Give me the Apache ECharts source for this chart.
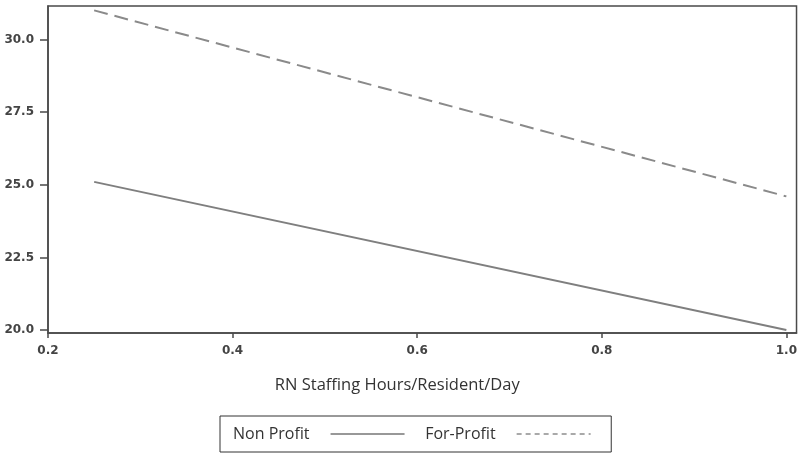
<!DOCTYPE html>
<html>
<head>
<meta charset="utf-8">
<script src="https://cdn.jsdelivr.net/npm/echarts@6/dist/echarts.min.js"></script>
<style>
  html, body { margin: 0; padding: 0; background: #fff; }
  #chart { width: 800px; height: 454px; }
</style>
</head>
<body>
<div id="chart"></div>
<script>
// RN staffing hours (x) and fitted values for each ownership type
const staffing = [0.25, 1.0];
const nonProfit = [25.1, 20.0];
const forProfit = [31.0, 24.6];
const xTicks = [0.2, 0.4, 0.6, 0.8, 1.0];
const yTicks = [20.0, 22.5, 25.0, 27.5, 30.0];

const chart = echarts.init(document.getElementById("chart"));
const axisColor = "#4a4a4a";
const option = {
  animation: false,
  grid: {
    left: 48,
    top: 6,
    right: 3,
    bottom: 121,
    show: true,
    borderColor: axisColor,
    borderWidth: 1.5,
  },
  legend: {
    left: 220,
    top: 416,
    align: "right",
    orient: "horizontal",
    itemWidth: 74,
    itemHeight: 14,
    itemGap: 20,
    padding: [10, 20, 10, 13],
    borderColor: "#333",
    borderWidth: 1,
    itemStyle: { opacity: 0 },
    textStyle: {
      fontFamily: "Open Sans",
      fontSize: 16,
      color: "#333",
      padding: [0, 16, 0, 0],
    },
    data: [
      { name: "Non Profit", lineStyle: { color: "#333", width: 1.2 } },
      { name: "For-Profit", lineStyle: { color: "#555", width: 1.2, type: [5, 4] } },
    ],
  },
  xAxis: {
    type: "value",
    min: 0.2,
    max: 1.011,
    name: "RN Staffing Hours/Resident/Day",
    nameLocation: "middle",
    nameGap: 44,
    nameTextStyle: {
      fontFamily: "Open Sans",
      fontSize: 16.5,
      color: "#333",
      padding: [0, 50, 0, 0],
    },
    splitLine: { show: false },
    axisLine: { lineStyle: { color: axisColor, width: 1.5 } },
    axisTick: { customValues: xTicks, length: 5, lineStyle: { color: axisColor, width: 1.5 } },
    axisLabel: {
      customValues: xTicks,
      formatter: (v) => v.toFixed(1),
      fontFamily: "DejaVu Sans",
      fontWeight: "bold",
      fontSize: 12,
      color: "#444",
      margin: 12,
    },
  },
  yAxis: {
    type: "value",
    min: 19.9,
    max: 31.15,
    splitLine: { show: false },
    axisLine: { show: true, lineStyle: { color: axisColor, width: 1.5 } },
    axisTick: { show: true, customValues: yTicks, length: 8, lineStyle: { color: axisColor, width: 1.5 } },
    axisLabel: {
      customValues: yTicks,
      formatter: (v) => v.toFixed(1),
      fontFamily: "DejaVu Sans",
      fontWeight: "bold",
      fontSize: 12,
      color: "#444",
      margin: 14,
    },
  },
  series: [
    {
      name: "Non Profit",
      type: "line",
      symbol: "none",
      lineStyle: { color: "#7f7f7f", width: 2, type: "solid" },
      itemStyle: { color: "#7f7f7f" },
      data: staffing.map((x, i) => [x, nonProfit[i]]),
    },
    {
      name: "For-Profit",
      type: "line",
      symbol: "none",
      lineStyle: { color: "#8a8a8a", width: 2, type: [14, 7] },
      itemStyle: { color: "#8a8a8a" },
      data: staffing.map((x, i) => [x, forProfit[i]]),
    },
  ],
};
chart.setOption(option);
</script>
</body>
</html>
